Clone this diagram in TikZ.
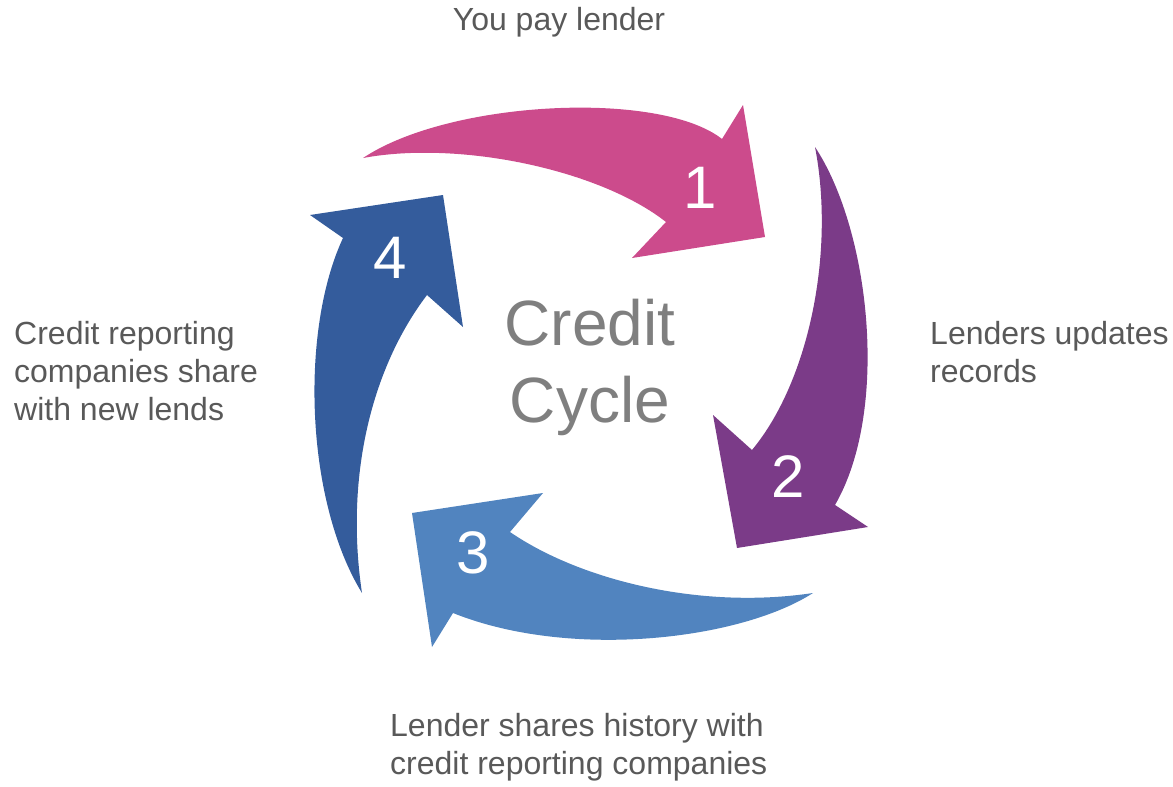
\documentclass[tikz,border=0pt]{standalone}
\usepackage{fontspec}
\setmainfont{Liberation Sans}
\usepackage{xcolor}

\definecolor{stepPink}{HTML}{CC4B8C}
\definecolor{stepPurple}{HTML}{7B3B88}
\definecolor{stepLight}{HTML}{5184BF}
\definecolor{stepDark}{HTML}{345C9C}
\definecolor{labelGray}{HTML}{595959}
\definecolor{titleGray}{HTML}{7F7F7F}

\tikzset{
  caption/.style={inner sep=0pt, text=labelGray, font=\fontsize{32}{38}\selectfont, align=left},
  numtext/.style={inner sep=0pt, text=white, font=\fontsize{60}{60}\selectfont},
}

\begin{document}
\begin{tikzpicture}[x=1pt,y=1pt,yscale=-1,xscale=1]
\useasboundingbox (0,0) rectangle (1173,787);

%Shape: Curved Arrow 1
\fill [stepPink] (363,158) .. controls (450,100) and (660,90) .. (722,139) -- (743,105) -- (765,237) -- (632,258) -- (666,222) .. controls (600,170) and (460,140) .. (363,158) -- cycle ;
%Shape: Curved Arrow 2
\fill [stepPurple] (815,147) .. controls (870,230) and (890,410) .. (835,505) -- (868,527) -- (737,548) -- (713,415) -- (752,450) .. controls (810,380) and (835,250) .. (815,147) -- cycle ;
%Shape: Curved Arrow 3
\fill [stepLight] (813,593) .. controls (740,640) and (570,660) .. (453,613) -- (432,647) -- (412,513) -- (543,493) -- (510,532) .. controls (580,580) and (700,610) .. (813,593) -- cycle ;
%Shape: Curved Arrow 4
\fill [stepDark] (362,593) .. controls (305,500) and (300,330) .. (343,238) -- (310,215) -- (443,195) -- (463,327) -- (427,295) .. controls (370,370) and (345,480) .. (362,593) -- cycle ;

% Text Node
\draw (700,188) node [numtext] (one) {1};
% Text Node
\draw (788,477) node [numtext] (two) {2};
% Text Node
\draw (473,553) node [numtext] (three) {3};
% Text Node
\draw (390,258) node [numtext] (four) {4};

% Text Node
\draw (590,367) node [inner sep=0pt, text=titleGray, font=\fontsize{64}{77}\selectfont, align=center] (title) {Credit\\Cycle};

% Text Node
\draw (559,22) node [caption] (pay) {You pay lender};
% Text Node
\draw (930,352) node [caption, anchor=west] (update) {Lenders updates\\records};
% Text Node
\draw (14,371) node [caption, anchor=west] (share) {Credit reporting\\companies share\\with new lends};
% Text Node
\draw (390,747) node [caption, anchor=west] (history) {Lender shares history with\\credit reporting companies};

\end{tikzpicture}
\end{document}
